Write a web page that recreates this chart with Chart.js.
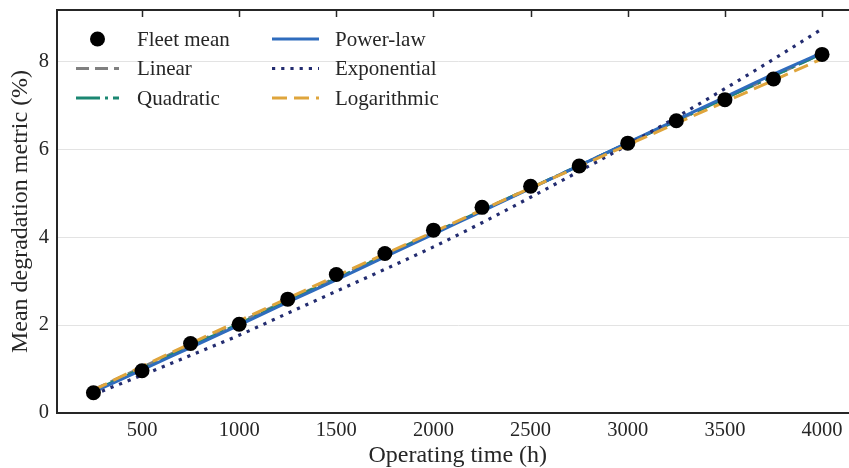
<!DOCTYPE html>
<html>
<head>
<meta charset="utf-8">
<script src="https://cdn.jsdelivr.net/npm/chart.js@4.4.1/dist/chart.umd.min.js"></script>
<style>
  html, body { margin: 0; padding: 0; overflow: hidden; background: #fff; }
  #wrap { position: relative; width: 866px; height: 468px; }
</style>
</head>
<body>
<div id="wrap"><canvas id="fits"></canvas></div>
<script>
// operating hours of each inspection
var hours = [250, 500, 750, 1000, 1250, 1500, 1750, 2000, 2250, 2500, 2750, 3000, 3250, 3500, 3750, 4000];
var fleetMean = [0.46, 0.96, 1.58, 2.02, 2.59, 3.15, 3.63, 4.16, 4.68, 5.16, 5.62, 6.14, 6.65, 7.13, 7.60, 8.16];

var linearFit = [0.53, 1.04, 1.55, 2.06, 2.57, 3.08, 3.59, 4.10, 4.61, 5.12, 5.63, 6.14, 6.65, 7.16, 7.67, 8.18];
var quadraticFit = [0.50, 1.01, 1.52, 2.03, 2.55, 3.06, 3.58, 4.09, 4.61, 5.12, 5.63, 6.14, 6.65, 7.16, 7.67, 8.18];
var powerFit = [0.48, 0.98, 1.49, 2.00, 2.52, 3.03, 3.55, 4.07, 4.59, 5.11, 5.63, 6.15, 6.67, 7.19, 7.71, 8.20];
var expFit = [0.42, 0.86, 1.31, 1.77, 2.27, 2.77, 3.27, 3.78, 4.33, 4.91, 5.50, 6.10, 6.73, 7.38, 8.05, 8.74];
var logFit = [0.52, 1.06, 1.58, 2.10, 2.61, 3.12, 3.62, 4.12, 4.62, 5.12, 5.61, 6.10, 6.59, 7.08, 7.57, 8.06];

var xTicks = [500, 1000, 1500, 2000, 2500, 3000, 3500, 4000];
var yTicks = [0, 2, 4, 6, 8];

var ink = '#262626';
var serif = "'Liberation Serif', 'DejaVu Serif', serif";

function pts(ys) {
  return hours.map(function (h, i) { return { x: h, y: ys[i] }; });
}

function fitLine(label, ys, color, dash, width) {
  return {
    label: label,
    data: pts(ys),
    borderColor: color,
    backgroundColor: color,
    borderWidth: width,
    borderDash: dash,
    pointRadius: 0,
    tension: 0,
    cubicInterpolationMode: 'monotone',
    fill: false
  };
}

// top spine with inward ticks
var topSpine = {
  id: 'topSpine',
  afterDraw: function (chart) {
    var c = chart.ctx, a = chart.chartArea, xs = chart.scales.x;
    c.save();
    c.strokeStyle = ink;
    c.lineWidth = 2;
    c.beginPath();
    c.moveTo(a.left - 1, a.top);
    c.lineTo(a.right, a.top);
    c.stroke();
    c.lineWidth = 1.5;
    xTicks.forEach(function (v) {
      var px = Math.round(xs.getPixelForValue(v)) + 0.5;
      c.beginPath();
      c.moveTo(px, a.top);
      c.lineTo(px, a.top + 7);
      c.stroke();
    });
    c.restore();
  }
};

// two-column legend inside the axes, no frame
var legendBox = {
  id: 'legendBox',
  afterDraw: function (chart) {
    var c = chart.ctx, a = chart.chartArea;
    var order = ['Fleet mean', 'Linear', 'Quadratic', 'Power-law', 'Exponential', 'Logarithmic'];
    c.save();
    c.font = '21px ' + serif;
    c.textBaseline = 'middle';
    c.fillStyle = ink;
    order.forEach(function (name, i) {
      var ds = chart.data.datasets.find(function (d) { return d.label === name; });
      var col = Math.floor(i / 3), row = i % 3;
      var x0 = a.left + (col === 0 ? 19 : 215);
      var x1 = x0 + (col === 0 ? 43 : 47);
      var y = a.top + 29 + row * 29.5;
      if (ds.showLine === false) {
        c.fillStyle = ds.pointBackgroundColor;
        c.beginPath();
        c.arc((x0 + x1) / 2, y, ds.pointRadius, 0, Math.PI * 2);
        c.fill();
      } else {
        c.strokeStyle = ds.borderColor;
        c.lineWidth = ds.borderWidth;
        c.setLineDash(ds.borderDash || []);
        c.beginPath();
        c.moveTo(x0, y);
        c.lineTo(x1, y);
        c.stroke();
        c.setLineDash([]);
      }
      c.fillStyle = ink;
      c.fillText(name, a.left + (col === 0 ? 80 : 278), y + 1);
    });
    c.restore();
  }
};

var ctx = document.getElementById('fits').getContext('2d');
var chart = new Chart(ctx, {
  type: 'line',
  data: {
    datasets: [
      {
        label: 'Fleet mean',
        data: pts(fleetMean),
        showLine: false,
        pointRadius: 7.5,
        pointBackgroundColor: '#000000',
        pointBorderWidth: 0,
        borderColor: '#000000'
      },
      fitLine('Logarithmic', logFit, '#dfa53c', [15, 7], 3),
      fitLine('Exponential', expFit, '#232c70', [3.2, 6], 3.2),
      fitLine('Power-law', powerFit, '#2f6cbd', [], 3),
      fitLine('Quadratic', quadraticFit, '#1b8772', [24, 5, 3, 5], 3),
      fitLine('Linear', linearFit, '#808080', [13, 6], 3)
    ]
  },
  options: {
    responsive: true,
    maintainAspectRatio: false,
    animation: false,
    events: [],
    layout: { padding: { left: 0, right: 4, top: 10, bottom: 0 } },
    plugins: {
      legend: { display: false },
      tooltip: { enabled: false }
    },
    scales: {
      x: {
        type: 'linear',
        min: 62.5,
        max: 4187.5,
        afterBuildTicks: function (s) { s.ticks = xTicks.map(function (v) { return { value: v }; }); },
        afterFit: function (s) { s.height = 55; },
        grid: { display: false, drawTicks: false },
        border: { color: ink, width: 2 },
        ticks: {
          color: ink, padding: 5, maxRotation: 0,
          font: { family: serif, size: 20.5 },
          callback: function (v) { return String(v); }
        },
        title: {
          display: true,
          text: 'Operating time (h)',
          color: ink,
          padding: { top: 0, bottom: 0 },
          font: { family: serif, size: 24, lineHeight: 1 }
        }
      },
      y: {
        type: 'linear',
        min: 0,
        max: 9.17,
        afterBuildTicks: function (s) { s.ticks = yTicks.map(function (v) { return { value: v }; }); },
        afterFit: function (s) {
          s.width = 57;
          s.paddingTop = 0;
          s.paddingBottom = 0;
        },
        grid: {
          drawTicks: false,
          color: function (c) { return c.tick && c.tick.value === 0 ? 'rgba(0,0,0,0)' : '#e3e3e3'; },
          lineWidth: 1
        },
        border: { color: ink, width: 2 },
        ticks: { color: ink, padding: 8, font: { family: serif, size: 20.5, lineHeight: 1 } },
        title: {
          display: true,
          text: 'Mean degradation metric (%)',
          color: ink,
          padding: { top: 9, bottom: 0 },
          font: { family: serif, size: 24, lineHeight: 1 }
        }
      }
    }
  },
  plugins: [topSpine, legendBox]
});
</script>
</body>
</html>
